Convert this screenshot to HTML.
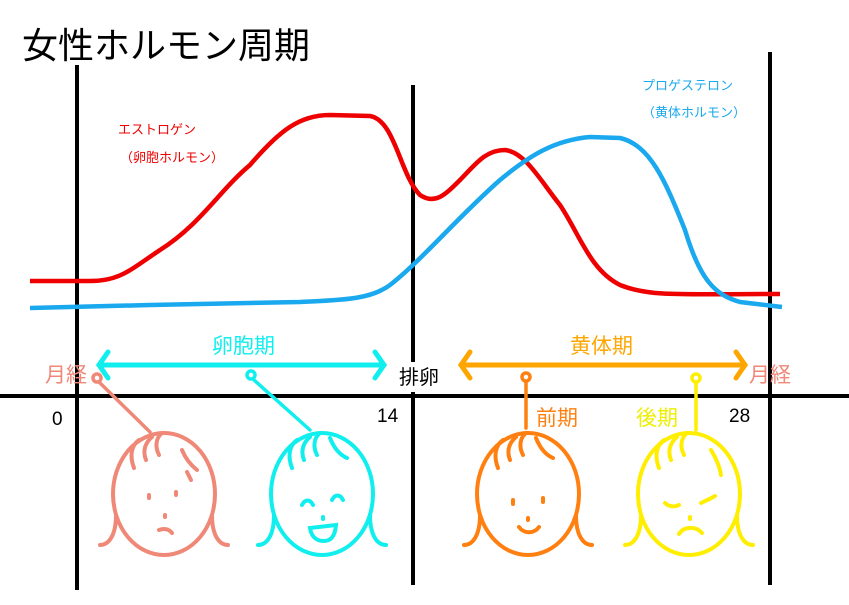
<!DOCTYPE html><html><head><meta charset="utf-8"><style>
body{margin:0;background:#fff;width:849px;height:600px;overflow:hidden}
text{font-family:"Liberation Sans","Noto Sans CJK JP",sans-serif}
</style></head><body>
<svg width="849" height="600" viewBox="0 0 849 600" xmlns="http://www.w3.org/2000/svg">
<text x="22" y="58" font-size="36" fill="#000">女性ホルモン周期</text>
<g stroke="#000" stroke-width="4">
<line x1="77" y1="65" x2="77" y2="590"/>
<line x1="413" y1="85" x2="413" y2="585"/>
<line x1="770" y1="52" x2="770" y2="585"/>
<line x1="0" y1="396" x2="849" y2="396"/>
</g>
<rect x="396" y="362" width="46" height="30" fill="#fff"/>
<path d="M30,281 L90,281 C120,281 130,270 160,250 C200,225 220,190 250,165 C280,130 300,115 330,115 L370,116 C395,120 400,175 420,195 C435,205 445,195 460,180 C475,165 485,150 505,150 C525,152 540,180 560,205 C580,235 590,270 620,285 C650,297 680,294 780,294" fill="none" stroke="#ee0000" stroke-width="4.5"/>
<path d="M30,308 L150,305 L300,302 C340,300 370,300 390,285 C420,262 460,215 500,180 C530,155 555,140 590,137 L620,138 C650,145 665,180 685,230 C700,280 715,295 740,302 L782,307" fill="none" stroke="#1aa8ee" stroke-width="4.5"/>
<text x="118" y="134" font-size="13" fill="#ee0000">エストロゲン</text>
<text x="120" y="162" font-size="13" fill="#ee0000">（卵胞ホルモン）</text>
<text x="642" y="90" font-size="13" fill="#1aa8ee">プロゲステロン</text>
<text x="642" y="117" font-size="13" fill="#1aa8ee">（黄体ホルモン）</text>
<g stroke="#11eeee" stroke-width="5" fill="none" stroke-linecap="round">
<line x1="99" y1="365" x2="384" y2="365"/><path d="M108,352 L99,365 L108,378 M375,352 L384,365 L375,378"/>
</g>
<text x="212" y="353" font-size="21" fill="#11eeee">卵胞期</text>
<g stroke="#ffa500" stroke-width="5" fill="none" stroke-linecap="round">
<line x1="461" y1="365" x2="745" y2="365"/><path d="M470,352 L461,365 L470,378 M736,352 L745,365 L736,378"/>
</g>
<text x="570" y="353" font-size="21" fill="#ffa500">黄体期</text>
<text x="399" y="384" font-size="20" fill="#000">排卵</text>
<text x="45" y="382" font-size="21" fill="#f08878">月経</text>
<text x="749" y="382" font-size="21" fill="#f08878">月経</text>
<text x="52" y="425" font-size="19" fill="#000">0</text>
<text x="377" y="422" font-size="19" fill="#000">14</text>
<text x="729" y="422" font-size="19" fill="#000">28</text>
<g stroke-width="3.5" fill="none" stroke-linecap="round">
<circle cx="97" cy="378" r="4" stroke="#f08878"/><line x1="100" y1="383" x2="150" y2="432" stroke="#f08878"/>
<circle cx="251" cy="375" r="4" stroke="#11eeee"/><line x1="254" y1="380" x2="310" y2="430" stroke="#11eeee"/>
<circle cx="526" cy="377" r="4" stroke="#ff8010"/><line x1="526" y1="382" x2="526" y2="428" stroke="#ff8010"/>
<circle cx="696" cy="378" r="4" stroke="#ffee00"/><line x1="696" y1="383" x2="696" y2="430" stroke="#ffee00"/>
</g>
<text x="536" y="425" font-size="21" fill="#ff8010">前期</text>
<text x="636" y="425" font-size="21" fill="#eeee00">後期</text>
<g fill="none" stroke-width="4" stroke-linecap="round">
<g stroke="#f08878" transform="translate(164,0)">
<ellipse cx="0" cy="494" rx="51" ry="61"/><path d="M-48,515 C-48,535 -55,545 -64,545 M48,515 C48,535 55,545 64,545"/>
<path d="M-30,468 C-35,455 -32,445 -25,440 M-18,460 C-22,450 -18,442 -12,437 M-5,455 C-10,445 -7,437 -2,433 M18,450 C22,460 28,466 33,470 M23,472 L27,480"/>
<line x1="-15" y1="495" x2="-15" y2="498"/><line x1="12" y1="492" x2="12" y2="495"/><line x1="1" y1="515" x2="1" y2="517"/>
<path d="M-5,530 C0,528 5,529 8,533"/></g>
<g stroke="#11eeee" transform="translate(322,0)">
<ellipse cx="0" cy="494" rx="51" ry="61"/><path d="M-48,515 C-48,535 -55,545 -64,545 M48,515 C48,535 55,545 64,545"/>
<path d="M-30,468 C-35,455 -32,445 -25,440 M-18,460 C-22,450 -18,442 -12,437 M-5,455 C-10,445 -7,437 -2,433 M8,438 C12,448 18,455 25,458"/>
<path d="M-20,505 C-17,499 -12,499 -9,505 M10,500 C13,494 18,494 21,500"/><line x1="1" y1="517" x2="1" y2="519"/>
<path d="M-12,528 L14,525 C13,537 8,541 2,541 C-7,541 -11,535 -12,528 Z"/></g>
<g stroke="#ff8010" transform="translate(528,0)">
<ellipse cx="0" cy="494" rx="51" ry="61"/><path d="M-48,515 C-48,535 -55,545 -64,545 M48,515 C48,535 55,545 64,545"/>
<path d="M-30,468 C-35,455 -32,445 -25,440 M-18,460 C-22,450 -18,442 -12,437 M-5,455 C-10,445 -7,437 -2,433 M8,438 C12,448 18,455 25,458"/>
<line x1="-15" y1="500" x2="-15" y2="504"/><line x1="15" y1="498" x2="15" y2="502"/><line x1="0" y1="518" x2="0" y2="520"/>
<path d="M-9,527 C-4,534 6,534 11,527"/></g>
<g stroke="#ffee00" transform="translate(689,0)">
<ellipse cx="0" cy="494" rx="51" ry="61"/><path d="M-48,515 C-48,535 -55,545 -64,545 M48,515 C48,535 55,545 64,545"/>
<path d="M-30,468 C-35,455 -32,445 -25,440 M-18,460 C-22,450 -18,442 -12,437 M-5,455 C-10,445 -7,437 -2,433 M22,450 C28,460 31,468 32,475"/>
<path d="M-24,503 C-20,507 -14,507 -10,505 M12,503 C16,501 21,499 26,496"/><line x1="1" y1="517" x2="1" y2="519"/>
<path d="M-10,534 C-5,526 7,526 13,533"/></g>
</g>
</svg>
</body></html>
